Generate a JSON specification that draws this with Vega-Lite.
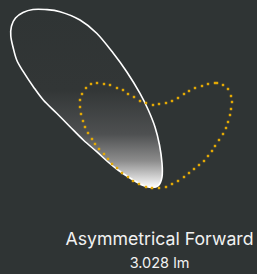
{
  "$schema": "https://vega.github.io/schema/vega-lite/v6.json",
  "width": 257,
  "height": 274,
  "autosize": {"type": "fit", "contains": "padding"},
  "padding": 0,
  "background": "#2f3434",
  "config": {"view": {"stroke": null}},
  "datasets": {
    "lobe": [
      {"i": 0, "x": 151, "y": 187.5},
      {"i": 1, "x": 142, "y": 185},
      {"i": 2, "x": 130, "y": 178},
      {"i": 3, "x": 118, "y": 170},
      {"i": 4, "x": 108, "y": 162},
      {"i": 5, "x": 96.7, "y": 151.7},
      {"i": 6, "x": 83.3, "y": 140},
      {"i": 7, "x": 70, "y": 126.7},
      {"i": 8, "x": 56.7, "y": 113.3},
      {"i": 9, "x": 43.3, "y": 100},
      {"i": 10, "x": 33.3, "y": 86.7},
      {"i": 11, "x": 23.3, "y": 71.7},
      {"i": 12, "x": 16.7, "y": 60},
      {"i": 13, "x": 13, "y": 47},
      {"i": 14, "x": 10.8, "y": 36},
      {"i": 15, "x": 11.5, "y": 26},
      {"i": 16, "x": 15.5, "y": 18},
      {"i": 17, "x": 23, "y": 12.5},
      {"i": 18, "x": 33, "y": 9.5},
      {"i": 19, "x": 45, "y": 9.5},
      {"i": 20, "x": 60, "y": 11.7},
      {"i": 21, "x": 80, "y": 20},
      {"i": 22, "x": 96.7, "y": 33.3},
      {"i": 23, "x": 113.3, "y": 53.3},
      {"i": 24, "x": 126.7, "y": 71.7},
      {"i": 25, "x": 140, "y": 93.3},
      {"i": 26, "x": 148.3, "y": 110},
      {"i": 27, "x": 155, "y": 127},
      {"i": 28, "x": 159.5, "y": 145},
      {"i": 29, "x": 162, "y": 163},
      {"i": 30, "x": 162, "y": 177},
      {"i": 31, "x": 158, "y": 186}
    ],
    "heart": [
      {"x": 86, "y": 88}, {"x": 91, "y": 84}, {"x": 97, "y": 83}, {"x": 104, "y": 84},
      {"x": 110, "y": 85}, {"x": 117, "y": 88}, {"x": 123, "y": 90}, {"x": 128, "y": 94},
      {"x": 134, "y": 97}, {"x": 140, "y": 101}, {"x": 146, "y": 103}, {"x": 153, "y": 105},
      {"x": 159, "y": 104}, {"x": 166, "y": 103}, {"x": 172, "y": 101}, {"x": 178, "y": 98},
      {"x": 184, "y": 94}, {"x": 189, "y": 91}, {"x": 195, "y": 88}, {"x": 202, "y": 86},
      {"x": 208, "y": 84}, {"x": 215, "y": 83}, {"x": 217, "y": 83}, {"x": 223, "y": 85},
      {"x": 228, "y": 89}, {"x": 231, "y": 96}, {"x": 232, "y": 102}, {"x": 231, "y": 109},
      {"x": 230, "y": 115}, {"x": 228, "y": 122}, {"x": 226, "y": 128}, {"x": 223, "y": 134},
      {"x": 219, "y": 140}, {"x": 215, "y": 146}, {"x": 212, "y": 151}, {"x": 208, "y": 156},
      {"x": 204, "y": 161}, {"x": 199, "y": 165}, {"x": 194, "y": 169}, {"x": 189, "y": 173},
      {"x": 184, "y": 177}, {"x": 178, "y": 181}, {"x": 172, "y": 184}, {"x": 166, "y": 187},
      {"x": 159, "y": 188}, {"x": 152, "y": 188}, {"x": 146, "y": 187}, {"x": 139, "y": 184},
      {"x": 133, "y": 181}, {"x": 128, "y": 177}, {"x": 122, "y": 173}, {"x": 117, "y": 168},
      {"x": 112, "y": 164}, {"x": 108, "y": 159}, {"x": 104, "y": 154}, {"x": 99, "y": 149},
      {"x": 95, "y": 144}, {"x": 92, "y": 139}, {"x": 88, "y": 133}, {"x": 85, "y": 127},
      {"x": 83, "y": 121}, {"x": 81, "y": 114}, {"x": 80, "y": 107}, {"x": 80, "y": 100},
      {"x": 82, "y": 94}
    ],
    "labels": [
      {"x": 159.5, "y": 245, "text": "Asymmetrical Forward", "kind": "title"},
      {"x": 159.5, "y": 268, "text": "3.028 lm", "kind": "sub"}
    ]
  },
  "encoding": {
    "x": {"field": "x", "type": "quantitative", "scale": {"domain": [0, 257]}, "axis": null},
    "y": {"field": "y", "type": "quantitative", "scale": {"domain": [0, 274], "reverse": true}, "axis": null}
  },
  "layer": [
    {
      "data": {"name": "lobe"},
      "mark": {
        "type": "line",
        "interpolate": "cardinal-closed",
        "stroke": "#ffffff",
        "strokeWidth": 1.6,
        "fill": {
          "gradient": "linear",
          "x1": 0, "y1": 0, "x2": 0, "y2": 1,
          "stops": [
            {"offset": 0, "color": "#2f3434"},
            {"offset": 0.45, "color": "#323636"},
            {"offset": 0.7, "color": "#4e5051"},
            {"offset": 0.85, "color": "#8c8c8c"},
            {"offset": 1, "color": "#ffffff"}
          ]
        }
      },
      "encoding": {"order": {"field": "i", "type": "quantitative"}}
    },
    {
      "data": {"name": "heart"},
      "mark": {"type": "point", "shape": "square", "filled": true, "size": 6, "color": "#e3a905", "opacity": 1}
    },
    {
      "data": {"name": "labels"},
      "transform": [{"filter": "datum.kind === 'title'"}],
      "mark": {"type": "text", "align": "center", "baseline": "alphabetic", "font": "Inter", "fontSize": 17.7, "color": "#f2f2f2"},
      "encoding": {"text": {"field": "text"}}
    },
    {
      "data": {"name": "labels"},
      "transform": [{"filter": "datum.kind === 'sub'"}],
      "mark": {"type": "text", "align": "center", "baseline": "alphabetic", "font": "Inter", "fontSize": 14.5, "color": "#f2f2f2"},
      "encoding": {"text": {"field": "text"}}
    }
  ]
}
